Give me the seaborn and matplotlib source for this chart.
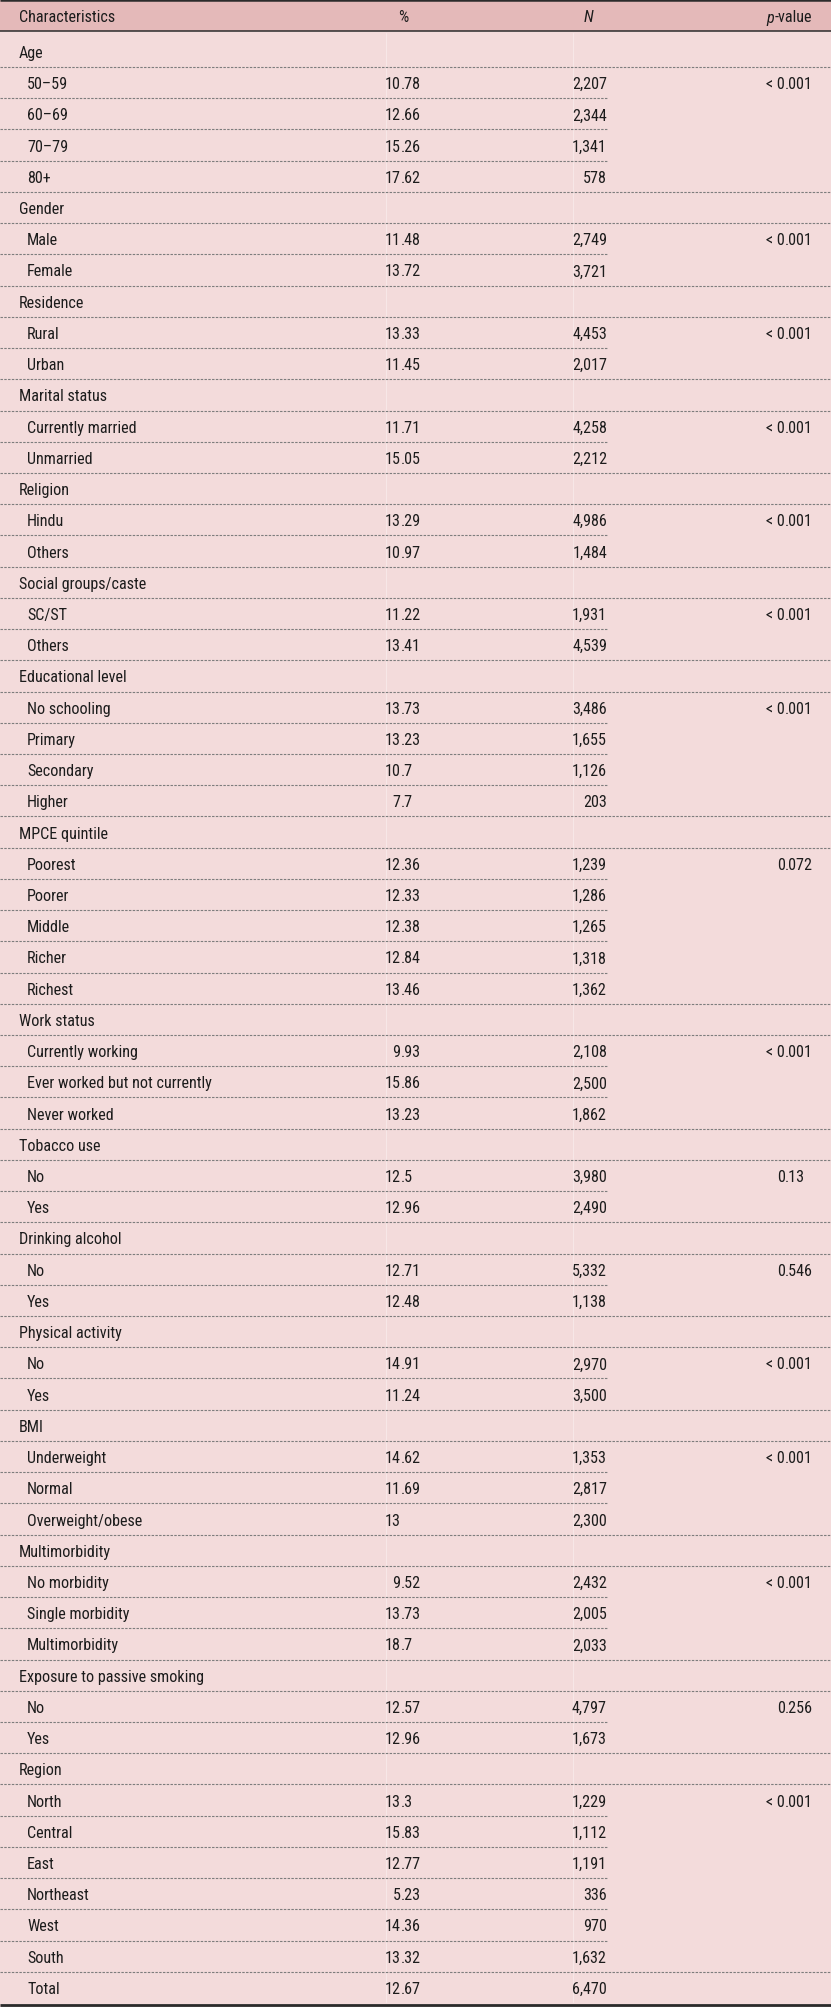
import matplotlib
matplotlib.use("Agg")
import matplotlib.pyplot as plt
from matplotlib import font_manager as fm
import seaborn as sns

# ---------------- data ----------------
group_names = [
    "Age", "Gender", "Residence", "Marital status", "Religion",
    "Social groups/caste", "Educational level", "MPCE quintile",
    "Work status", "Tobacco use", "Drinking alcohol", "Physical activity",
    "BMI", "Multimorbidity", "Exposure to passive smoking", "Region",
]
group_items = [
    ["50\u201359", "60\u201369", "70\u201379", "80+"],
    ["Male", "Female"],
    ["Rural", "Urban"],
    ["Currently married", "Unmarried"],
    ["Hindu", "Others"],
    ["SC/ST", "Others"],
    ["No schooling", "Primary", "Secondary", "Higher"],
    ["Poorest", "Poorer", "Middle", "Richer", "Richest"],
    ["Currently working", "Ever worked but not currently", "Never worked"],
    ["No", "Yes"],
    ["No", "Yes"],
    ["No", "Yes"],
    ["Underweight", "Normal", "Overweight/obese"],
    ["No morbidity", "Single morbidity", "Multimorbidity"],
    ["No", "Yes"],
    ["North", "Central", "East", "Northeast", "West", "South"],
]
pct_values = [
    [10.78, 12.66, 15.26, 17.62],
    [11.48, 13.72],
    [13.33, 11.45],
    [11.71, 15.05],
    [13.29, 10.97],
    [11.22, 13.41],
    [13.73, 13.23, 10.7, 7.7],
    [12.36, 12.33, 12.38, 12.84, 13.46],
    [9.93, 15.86, 13.23],
    [12.5, 12.96],
    [12.71, 12.48],
    [14.91, 11.24],
    [14.62, 11.69, 13],
    [9.52, 13.73, 18.7],
    [12.57, 12.96],
    [13.3, 15.83, 12.77, 5.23, 14.36, 13.32],
]
n_values = [
    [2207, 2344, 1341, 578],
    [2749, 3721],
    [4453, 2017],
    [4258, 2212],
    [4986, 1484],
    [1931, 4539],
    [3486, 1655, 1126, 203],
    [1239, 1286, 1265, 1318, 1362],
    [2108, 2500, 1862],
    [3980, 2490],
    [5332, 1138],
    [2970, 3500],
    [1353, 2817, 2300],
    [2432, 2005, 2033],
    [4797, 1673],
    [1229, 1112, 1191, 336, 970, 1632],
]
p_values = [
    "< 0.001", "< 0.001", "< 0.001", "< 0.001", "< 0.001", "< 0.001",
    "< 0.001", "0.072", "< 0.001", "0.13", "0.546", "< 0.001",
    "< 0.001", "< 0.001", "0.256", "< 0.001",
]
total_label = "Total"
total_pct = 12.67
total_n = 6470
header_labels = ["Characteristics", "%", "N", "p", "-value"]

# ---------------- style ----------------
sns.set_theme(style="white")

# try to find a narrow / condensed sans face; fall back to Liberation Sans
FAMILY, STRETCH, FS = "Liberation Sans", "normal", 10.9
_cands = [("Liberation Sans Narrow", "normal", 12.0),
          ("Roboto Condensed", "normal", 11.6),
          ("Noto Sans", "condensed", 11.6),
          ("Open Sans", "condensed", 11.4),
          ("Noto Sans", "semi-condensed", 11.2)]
for fam, st, fs in _cands:
    try:
        path = fm.findfont(fm.FontProperties(family=fam, stretch=st),
                           fallback_to_default=False)
    except Exception:
        continue
    low = path.lower()
    if "narrow" in low or "cond" in low:
        FAMILY, STRETCH, FS = fam, st, fs
        break

plt.rcParams["font.family"] = [FAMILY, "DejaVu Sans"]
plt.rcParams["font.stretch"] = STRETCH

W, H = 831, 2008
HEADER_BG = "#e4b9b9"
BODY_BG = "#f3dbdb"
DARK = "#2b2b2b"
DOT = "#7d7d7d"
TXT = "#1c1c1c"

fig = plt.figure(figsize=(W / 100, H / 100), dpi=100)
fig.patch.set_facecolor(BODY_BG)
ax = fig.add_axes([0, 0, 1, 1])
ax.set_xlim(0, W)
ax.set_ylim(H, 0)
ax.axis("off")

ax.axhspan(0, 32, color=HEADER_BG, lw=0, zorder=0)
ax.axhspan(32, H, color=BODY_BG, lw=0, zorder=0)

X_LABEL = 19
X_ITEM = 27
X_PCT_DEC = 400.5
X_N_RIGHT = 607
X_P_DEC = 784.5
ITEM_LINE_END = 608

kw = dict(fontsize=FS, color=TXT, stretch=STRETCH)
renderer = fig.canvas.get_renderer()

# header
hy = 18
ax.text(X_LABEL, hy, header_labels[0], ha="left", va="center", **kw)
ax.text(403, hy, header_labels[1], ha="center", va="center", **kw)
ax.text(589, hy, header_labels[2], ha="center", va="center", fontstyle="italic", **kw)
tv = ax.text(812, hy, header_labels[4], ha="right", va="center", **kw)
bb = tv.get_window_extent(renderer)
ax.text(bb.x0 - 0.5, hy, header_labels[3], ha="right", va="center",
        fontstyle="italic", **kw)

ax.plot([0, W], [1.2, 1.2], color=DARK, lw=1.8, solid_capstyle="butt", zorder=3)
ax.plot([0, W], [32, 32], color=DARK, lw=1.1, solid_capstyle="butt", zorder=3)

rows = []
for g, name in enumerate(group_names):
    rows.append((name, X_LABEL, None, None, None, W))
    k = len(group_items[g])
    for i in range(k):
        p = p_values[g] if i == 0 else None
        end = W if i == k - 1 else ITEM_LINE_END
        rows.append((group_items[g][i], X_ITEM, pct_values[g][i], n_values[g][i], p, end))
rows.append((total_label, X_ITEM, total_pct, total_n, None, None))

Y0 = 36.8
RH = (2004.0 - Y0) / len(rows)

for xv in (386, 573):
    ax.plot([xv, xv], [34, 2003], color="#f7e7e7", lw=0.8, zorder=1)


def split_dec(s):
    if "." in s:
        a, b = s.split(".", 1)
        return a, "." + b
    return s, ""


for r, (label, xi, pct, n, p, end) in enumerate(rows):
    top = Y0 + r * RH
    cy = top + RH / 2 + 1.0
    ax.text(xi, cy, label, ha="left", va="center", **kw)
    if pct is not None:
        a, b = split_dec("{:g}".format(pct))
        ax.text(X_PCT_DEC, cy, a, ha="right", va="center", **kw)
        if b:
            ax.text(X_PCT_DEC, cy, b, ha="left", va="center", **kw)
    if n is not None:
        ax.text(X_N_RIGHT, cy, "{:,}".format(n), ha="right", va="center", **kw)
    if p is not None:
        a, b = split_dec(p)
        ax.text(X_P_DEC, cy, a, ha="right", va="center", **kw)
        ax.text(X_P_DEC, cy, b, ha="left", va="center", **kw)
    bottom = top + RH
    if end is not None:
        ax.plot([0, end], [bottom, bottom], color=DOT, lw=0.8,
                linestyle=(0, (2.2, 1.2)), zorder=2)

ax.plot([0, W], [2005.5, 2005.5], color=DARK, lw=2.0, solid_capstyle="butt", zorder=3)

fig.savefig("out.png", dpi=100, facecolor=fig.get_facecolor())
